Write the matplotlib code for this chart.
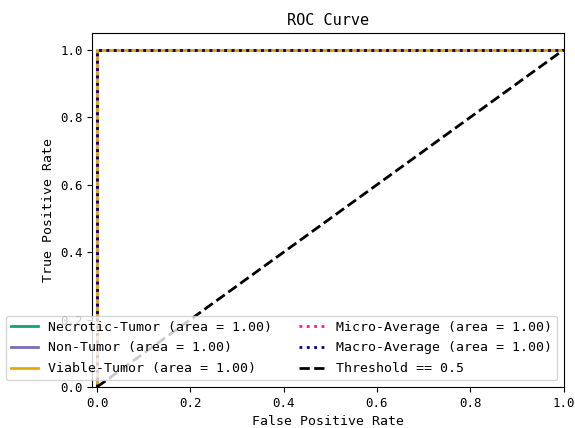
import matplotlib
matplotlib.use("Agg")
import matplotlib.pyplot as plt

plt.rcParams['font.family'] = ['DejaVu Sans Mono']

# ROC points (every curve is perfect)
class_names = ["Necrotic-Tumor", "Non-Tumor", "Viable-Tumor"]
class_fpr = [[0.0, 0.0, 1.0], [0.0, 0.0, 1.0], [0.0, 0.0, 1.0]]
class_tpr = [[0.0, 1.0, 1.0], [0.0, 1.0, 1.0], [0.0, 1.0, 1.0]]
class_auc = [1.00, 1.00, 1.00]
class_colors = ["#1b9e77", "#7570b3", "#e6ab02"]

micro_fpr = [0.0, 0.0, 1.0]
micro_tpr = [0.0, 1.0, 1.0]
micro_auc = 1.00
macro_fpr = [0.0, 0.0, 1.0]
macro_tpr = [0.0, 1.0, 1.0]
macro_auc = 1.00

fig = plt.figure(figsize=(5.75, 4.28), dpi=100)
ax = fig.add_axes([92.4 / 575, 1 - 387 / 428, (563.6 - 92.4) / 575, (387 - 33) / 428])

for name, fpr, tpr, auc, col in zip(class_names, class_fpr, class_tpr, class_auc, class_colors):
    ax.plot(fpr, tpr, color=col, lw=2, label="%s (area = %0.2f)" % (name, auc))

ax.plot(micro_fpr, micro_tpr, color="deeppink", linestyle=":", lw=2,
        label="Micro-Average (area = %0.2f)" % micro_auc)
ax.plot(macro_fpr, macro_tpr, color="navy", linestyle=":", lw=2,
        label="Macro-Average (area = %0.2f)" % macro_auc)
ax.plot([0, 1], [0, 1], "k--", lw=2, label="Threshold == 0.5")

ax.set_xlim([-0.01, 1.0])
ax.set_ylim([0.0, 1.05])
ax.set_xlabel("False Positive Rate", fontsize=9.5)
ax.set_ylabel("True Positive Rate", fontsize=9.5)
ax.set_title("ROC Curve", fontsize=11)
ax.tick_params(labelsize=9)
ax.legend(loc="lower right", ncol=2, fontsize=9.5, labelspacing=0.58)

fig.savefig("out.png", dpi=100)
